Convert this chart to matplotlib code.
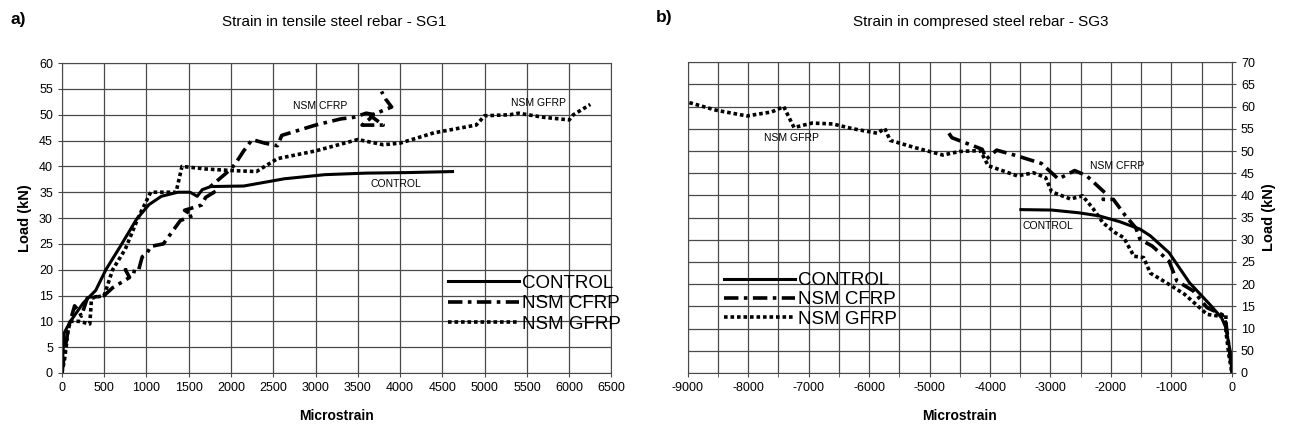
import matplotlib.pyplot as plt
from matplotlib.ticker import MultipleLocator

plt.rcParams['font.family'] = ['Liberation Sans Narrow', 'Liberation Sans', 'DejaVu Sans']
plt.rcParams['axes.unicode_minus'] = False

# panel a) tensile rebar SG1 (microstrain, load kN)
a_ctrl_x = [0, 25, 100, 250, 400, 520, 690, 880, 1030, 1175, 1370, 1515, 1560, 1600, 1660, 1760,
            2150, 2630, 3110, 3600, 4080, 4620]
a_ctrl_y = [0, 7.7, 10, 13.5, 16, 20, 24.5, 29.7, 32.6, 34.2, 35, 35, 34.6, 34.2, 35.5, 36.1,
            36.2, 37.6, 38.4, 38.7, 38.8, 39]

a_cfrp_x = [0, 40, 80, 150, 200, 230, 300, 500, 600, 800, 750, 900, 950, 1000, 1050, 1200, 1400,
            1550, 1450, 1650, 1700, 1800, 1750, 2000, 2050, 2150, 2250, 2400, 2550, 2600, 2800,
            3000, 3300, 3450, 3600, 3700, 3550, 3800, 3650, 3750, 3900, 3830, 3780]
a_cfrp_y = [0, 5, 9, 13, 12, 11, 14.5, 15, 16.5, 18.5, 20, 19.5, 22.5, 23, 24.5, 25, 29.5,
            30.5, 31.5, 32.5, 34, 35, 36, 39.5, 40.5, 43, 45.2, 44.5, 44, 46, 47,
            48, 49.2, 49.5, 50.3, 50, 48, 48, 49.8, 50.5, 51.5, 53, 54.5]

a_gfrp_x = [0, 30, 50, 70, 100, 200, 330, 350, 500, 600, 750, 900, 1050, 1200, 1350, 1420, 1700,
            2000, 2300, 2550, 3000, 3500, 3800, 4000, 4400, 4900, 5000, 5300, 5400, 5700, 6000,
            6050, 6250]
a_gfrp_y = [0, 2.5, 5, 8, 10, 10, 9.5, 14.5, 15, 20, 24, 30, 35, 35, 35, 40, 39.5,
            39.2, 39, 41.5, 43, 45.2, 44.2, 44.5, 46.5, 48, 49.8, 50, 50.3, 49.5, 49,
            50, 52]

# panel b) compressed rebar SG3
b_ctrl_x = [-3490, -2980, -2540, -2200, -1860, -1520, -1350, -1040, -700, -370, -170, -100, -30, 0]
b_ctrl_y = [36.8, 36.7, 36.1, 35.4, 34.1, 32.4, 30.9, 27.1, 20.3, 15.5, 12.4, 10.2, 4.9, 0]

b_cfrp_x = [-4680, -4630, -4360, -4130, -4060, -3890, -3550, -3150, -2870, -2600, -2400, -2100,
            -2130, -1960, -1760, -1590, -1520, -1320, -1040, -910, -640, -410, -170, -100, -40, 0]
b_cfrp_y = [54, 53, 51.6, 50.4, 48.2, 50.2, 48.9, 47.2, 43.7, 45.6, 44.4, 40.6,
            39.1, 39.1, 35.4, 32.7, 30.1, 28.6, 25.2, 20.7, 18.5, 14.7, 13.2, 11.3, 5, 0]

b_gfrp_x = [-8970, -8530, -8020, -7610, -7410, -7310, -7240, -6940, -6600, -6260, -5860, -5740,
            -5650, -5250, -4780, -4500, -4160, -4030, -3550, -3280, -3080, -2980, -2670, -2470,
            -2300, -2130, -1930, -1790, -1620, -1460, -1350, -1080, -780, -410, -200, -100,
            -100, -50, 0]
b_gfrp_y = [60.9, 59.2, 57.9, 58.8, 60, 57.2, 55.3, 56.3, 56.1, 55, 54, 55.1,
            52.4, 50.8, 49.1, 49.9, 50.1, 46.7, 44.4, 45.1, 44, 40.8, 39.2, 39.9,
            37.1, 33.8, 31.6, 30.5, 26.3, 26, 22.5, 20.3, 17.7, 13.2, 12.8, 13.2,
            9.4, 4, 0]

b_ytick_labels = ['0', '50', '10', '15', '20', '25', '30', '35', '40', '45', '50', '55', '60', '65', '70']

styles = {
    'CONTROL': dict(color='black', lw=2.2, ls='-'),
    'NSM CFRP': dict(color='black', lw=2.6, ls=(0, (4, 1.5, 1, 1.5))),
    'NSM GFRP': dict(color='black', lw=2.6, ls=(0, (1, 0.8))),
}
bold_font = ['Liberation Sans', 'DejaVu Sans']

fig = plt.figure(figsize=(12.9, 4.34), dpi=100)
ax1 = fig.add_axes([0.048, 0.1406, 0.426, 0.714])
ax2 = fig.add_axes([0.533, 0.1406, 0.422, 0.716])

grid_kw = dict(color='#4a4a4a', lw=0.9)

# ---- panel a
ax1.plot(a_ctrl_x, a_ctrl_y, label='CONTROL', **styles['CONTROL'])
ax1.plot(a_cfrp_x, a_cfrp_y, label='NSM CFRP', **styles['NSM CFRP'])
ax1.plot(a_gfrp_x, a_gfrp_y, label='NSM GFRP', **styles['NSM GFRP'])
ax1.set_xlim(0, 6500)
ax1.set_ylim(0, 60)
ax1.xaxis.set_major_locator(MultipleLocator(500))
ax1.yaxis.set_major_locator(MultipleLocator(5))
ax1.grid(True, **grid_kw)
ax1.set_axisbelow(True)
ax1.tick_params(labelsize=9, length=3, color='#4a4a4a')
ax1.set_xlabel('Microstrain', fontsize=10, fontweight='bold', family=bold_font, labelpad=11)
ax1.set_ylabel('Load (kN)', fontsize=10.5, fontweight='bold', family=bold_font, labelpad=5)
for s in ax1.spines.values():
    s.set_color('#4a4a4a')
ax1.text(3050, 51.7, 'NSM CFRP', fontsize=7.5, ha='center', va='center')
ax1.text(5640, 52.3, 'NSM GFRP', fontsize=7.5, ha='center', va='center')
ax1.text(3950, 36.5, 'CONTROL', fontsize=7.5, ha='center', va='center')
ax1.legend(loc='lower left', bbox_to_anchor=(0.685, 0.1), frameon=False, fontsize=13.5,
           handlelength=3.8, handletextpad=0.15, labelspacing=0.18, borderpad=0)

# ---- panel b
ax2.plot(b_ctrl_x, b_ctrl_y, label='CONTROL', **styles['CONTROL'])
ax2.plot(b_cfrp_x, b_cfrp_y, label='NSM CFRP', **styles['NSM CFRP'])
ax2.plot(b_gfrp_x, b_gfrp_y, label='NSM GFRP', **styles['NSM GFRP'])
ax2.set_xlim(-9000, 0)
ax2.set_ylim(0, 70)
ax2.xaxis.set_major_locator(MultipleLocator(1000))
ax2.xaxis.set_minor_locator(MultipleLocator(500))
ax2.set_yticks(range(0, 71, 5))
ax2.set_yticklabels(b_ytick_labels)
ax2.yaxis.tick_right()
ax2.yaxis.set_label_position('right')
ax2.grid(True, which='both', **grid_kw)
ax2.set_axisbelow(True)
ax2.tick_params(which='both', labelsize=9, length=3, color='#4a4a4a')
ax2.set_xlabel('Microstrain', fontsize=10, fontweight='bold', family=bold_font, labelpad=11)
ax2.set_ylabel('Load (kN)', fontsize=10.5, fontweight='bold', family=bold_font, labelpad=5)
for s in ax2.spines.values():
    s.set_color('#4a4a4a')
ax2.text(-7275, 53, 'NSM GFRP', fontsize=7.5, ha='center', va='center')
ax2.text(-1900, 46.7, 'NSM CFRP', fontsize=7.5, ha='center', va='center')
ax2.text(-3050, 33, 'CONTROL', fontsize=7.5, ha='center', va='center')
ax2.legend(loc='lower left', bbox_to_anchor=(0.05, 0.115), frameon=False, fontsize=13.5,
           handlelength=3.8, handletextpad=0.15, labelspacing=0.12, borderpad=0)

# titles
fig.text(0.008, 0.955, 'a)', fontsize=12.5, fontweight='bold', va='center', family=bold_font)
fig.text(0.259, 0.95, 'Strain in tensile steel rebar - SG1', fontsize=11, ha='center', va='center',
         family=bold_font)
fig.text(0.508, 0.96, 'b)', fontsize=12.5, fontweight='bold', va='center', family=bold_font)
fig.text(0.76, 0.95, 'Strain in compresed steel rebar - SG3', fontsize=11, ha='center', va='center',
         family=bold_font)

fig.savefig('out.png', dpi=100)
